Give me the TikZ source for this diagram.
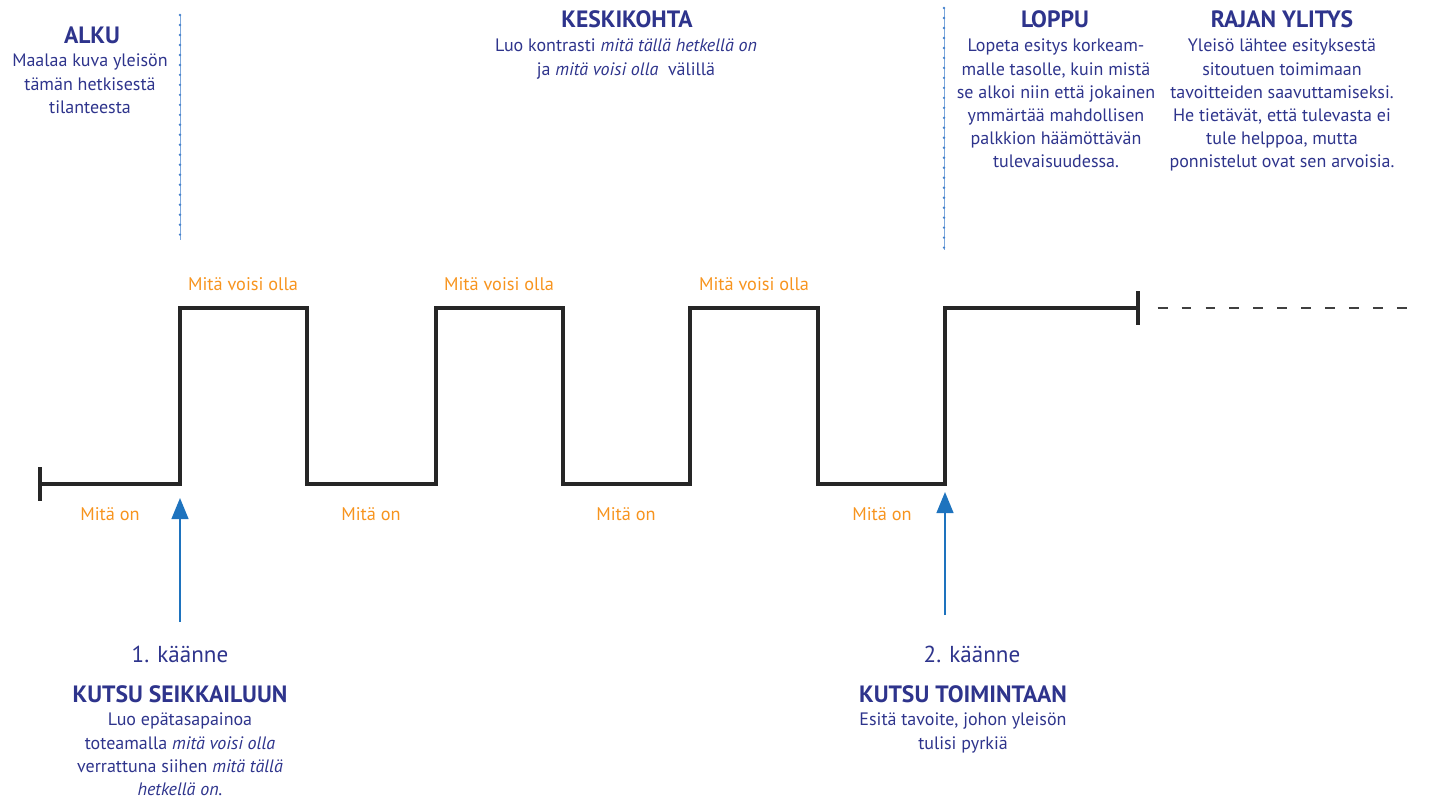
\documentclass[tikz,border=0pt]{standalone}
\usepackage{fontspec}
\setmainfont{PT Sans}
\usetikzlibrary{arrows.meta}

\definecolor{navy}{RGB}{46,52,140}
\definecolor{orng}{RGB}{247,148,30}
\definecolor{arrblue}{RGB}{30,115,190}
\definecolor{dotblue}{RGB}{70,130,205}

\begin{document}
\begin{tikzpicture}[
x=0.025cm, y=-0.025cm,
head/.style={font=\fontsize{16.8}{19}\selectfont\bfseries, text=navy, inner sep=0pt, anchor=base},
body/.style={font=\fontsize{12.8}{16.5}\selectfont, text=navy, align=center, inner sep=0pt, anchor=north, execute at begin node=\strut},
level/.style={font=\fontsize{13}{15}\selectfont, text=orng, inner sep=0pt, anchor=base},
turn/.style={font=\fontsize{16.4}{19}\selectfont, text=navy, inner sep=0pt, anchor=base},
signal/.style={line width=2.8pt, black!85, line join=miter},
endbar/.style={line width=2.2pt, black!85},
future/.style={line width=1.4pt, black!75, dash pattern=on 7pt off 10pt},
arrow/.style={-{Triangle[length=15pt,width=12pt]}, line width=1.4pt, arrblue},
divider/.style={line width=0.5pt, dotblue!70},
dividerdots/.style={line width=1.9pt, dotblue, line cap=round, dash pattern=on 0pt off 7.1pt} ]

\useasboundingbox (0,0) rectangle (1442,803);

\coordinate (start) at (40,484);

\coordinate (p1) at (180,308);

\coordinate (p2) at (307,484);

\coordinate (p3) at (436,308);

\coordinate (p4) at (563,484);

\coordinate (p5) at (690,308);

\coordinate (p6) at (818,484);

\coordinate (p7) at (945,308);

\coordinate (stop) at (1138,308);

\coordinate (fade) at (1418,308);

\draw[signal] (start) -| (p1) -| (p2) -| (p3) -| (p4) -| (p5) -| (p6) -| (p7) -- (stop);

\draw[endbar] ([yshift=-12]start) -- ([yshift=12]start);

\draw[endbar] ([yshift=-12]stop) -- ([yshift=12]stop);

\draw[future] ([xshift=14]stop) -- (fade);

\coordinate (d1top) at (180,15);

\coordinate (d1bot) at (180,240);

\coordinate (d2top) at (944,8);

\coordinate (d2bot) at (944,250);

\draw[divider] (d1top) -- (d1bot);

\draw[dividerdots] (d1top) -- (d1bot);

\draw[divider] (d2top) -- (d2bot);

\draw[dividerdots] (d2top) -- (d2bot);

\node[level] (high1) at (243,290) {Mitä voisi olla};

\node[level] (high2) at (499,290) {Mitä voisi olla};

\node[level] (high3) at (754,290) {Mitä voisi olla};

\node[level] (low1) at (110,520) {Mitä on};

\node[level] (low2) at (371,520) {Mitä on};

\node[level] (low3) at (626,520) {Mitä on};

\node[level] (low4) at (882,520) {Mitä on};

\node[head] (alku) at (92,43) {ALKU};

\node[body] (alkutext) at (90,53.8) {Maalaa kuva yleisön\\tämän hetkisestä\\tilanteesta};

\node[head] (keski) at (627,27) {KESKIKOHTA};

\node[body] (keskitext) at (626,38.8) {Luo kontrasti \textit{mitä tällä hetkellä on}\\ja \textit{mitä voisi olla}\ \ välillä};

\node[head] (loppu) at (1055,27) {LOPPU};

\node[body] (lopputext) at (1056,38.8) {Lopeta esitys korkeam-\\malle tasolle, kuin mistä\\se alkoi niin että jokainen\\ymmärtää mahdollisen\\palkkion häämöttävän\\tulevaisuudessa.};

\node[head] (raja) at (1282,27) {RAJAN YLITYS};

\node[body] (rajatext) at (1282,38.8) {Yleisö lähtee esityksestä\\sitoutuen toimimaan\\tavoitteiden saavuttamiseksi.\\He tietävät, että tulevasta ei\\tule helppoa, mutta\\ponnistelut ovat sen arvoisia.};

\node[turn] (turn1) at (180,662) {1. käänne};

\node[head] (kutsu1) at (180,702) {KUTSU SEIKKAILUUN};

\node[body] (kutsu1text) at (180,712.8) {Luo epätasapainoa\\toteamalla \textit{mitä voisi olla}\\verrattuna siihen \textit{mitä tällä}\\\textit{hetkellä on.}};

\node[turn] (turn2) at (972,662) {2. käänne};

\node[head] (kutsu2) at (963,702) {KUTSU TOIMINTAAN};

\node[body] (kutsu2text) at (963,712.8) {Esitä tavoite, johon yleisön\\tulisi pyrkiä};

\coordinate (a1foot) at (180,622);

\coordinate (a1tip) at (180,498);

\coordinate (a2foot) at (945,615);

\coordinate (a2tip) at (945,492);

\draw[arrow] (a1foot) -- (a1tip);

\draw[arrow] (a2foot) -- (a2tip);

\end{tikzpicture}
\end{document}
